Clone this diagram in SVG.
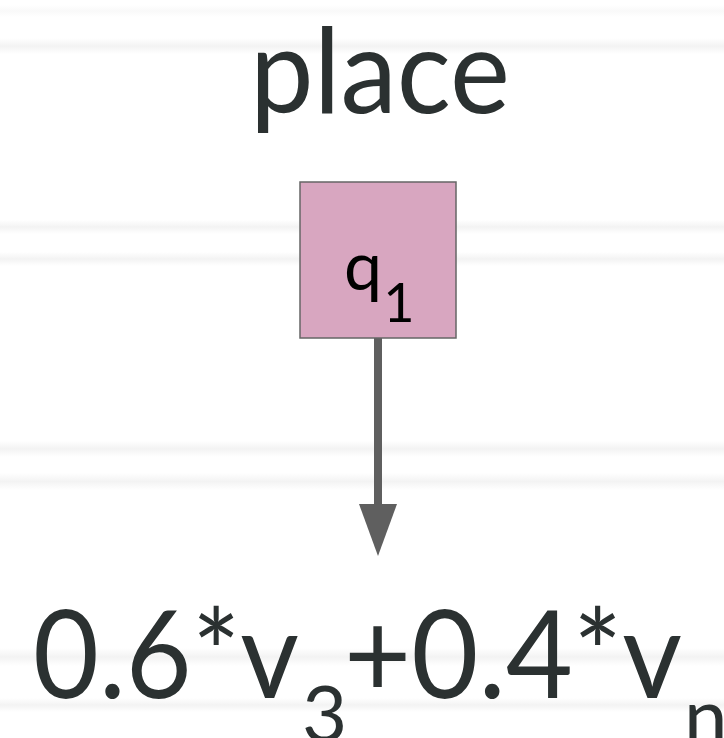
<svg xmlns="http://www.w3.org/2000/svg" width="724" height="738" viewBox="0 0 724 738">
  <defs>
    <linearGradient id="stripe" x1="0" y1="0" x2="0" y2="1">
      <stop offset="0" stop-color="#ffffff"/>
      <stop offset="0.5" stop-color="#f3f3f3"/>
      <stop offset="1" stop-color="#ffffff"/>
    </linearGradient>
  </defs>
  <style>
    .lbl { font-family: Lato, "Open Sans", "Liberation Sans", sans-serif; fill: #2b3131; }
    .nodetxt { font-family: Lato, "Open Sans", "Liberation Sans", sans-serif; fill: #000000; }
    .node { fill: #d8a6c0; stroke: #666666; stroke-width: 1.5; }
    .edge { stroke: #5f5f5f; stroke-width: 8; fill: none; }
    .head { fill: #5f5f5f; }
    .bg { fill: url(#stripe); }
  </style>
  <rect x="0" y="0" width="724" height="738" fill="#ffffff"/>
  <g id="background">
    <rect class="bg" x="0" y="5" width="724" height="12" opacity="0.5"/>
    <rect class="bg" x="0" y="38" width="724" height="16"/>
    <rect class="bg" x="0" y="220" width="724" height="14"/>
    <rect class="bg" x="0" y="252" width="724" height="14"/>
    <rect class="bg" x="0" y="441" width="724" height="16"/>
    <rect class="bg" x="0" y="473" width="724" height="17"/>
    <rect class="bg" x="0" y="648" width="724" height="18"/>
    <rect class="bg" x="0" y="698" width="724" height="14"/>
  </g>
  <g id="title">
    <text class="lbl" x="250" y="113" font-size="118" textLength="260" lengthAdjust="spacingAndGlyphs">place</text>
  </g>
  <g id="connectors">
    <line class="edge" x1="378" y1="338" x2="378" y2="506"/>
    <polygon class="head" points="359,504 397,504 378,556"/>
  </g>
  <g id="node-q1">
    <rect class="node" x="300" y="182" width="156" height="156"/>
    <text class="nodetxt" x="344" y="290" font-size="68">q</text>
    <text class="nodetxt" x="399" y="322" font-size="54" text-anchor="middle">1</text>
  </g>
  <g id="formula">
    <text class="lbl" x="33" y="698" font-size="122" textLength="266" lengthAdjust="spacingAndGlyphs">0.6*v</text>
    <text class="lbl" x="302" y="742" font-size="78">3</text>
    <text class="lbl" x="344" y="698" font-size="122" textLength="338" lengthAdjust="spacingAndGlyphs">+0.4*v</text>
    <text class="lbl" x="684" y="744" font-size="78">n</text>
  </g>
</svg>
